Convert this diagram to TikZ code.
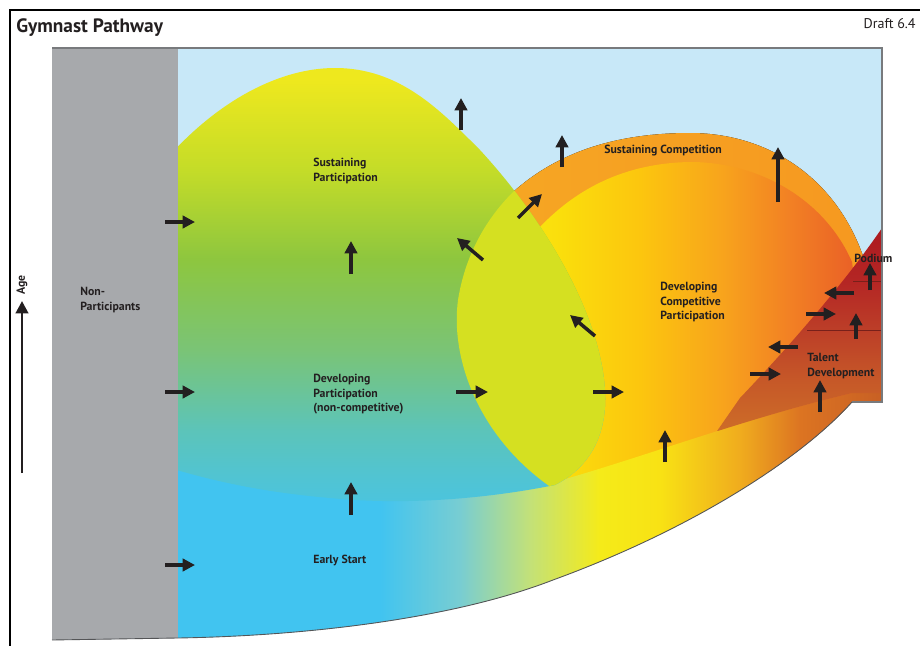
\documentclass[tikz,border=0pt]{standalone}
\usepackage{fontspec}
\setmainfont{PT Sans}
\usetikzlibrary{arrows.meta}

\definecolor{skyback}{RGB}{200,232,248}
\definecolor{nongray}{RGB}{167,169,172}
\definecolor{edgegray}{RGB}{120,122,125}
\definecolor{labeldark}{RGB}{35,31,32}
\definecolor{lenslime}{RGB}{213,224,33}
\definecolor{ringleft}{RGB}{246,168,36}
\definecolor{ringright}{RGB}{246,152,32}
\definecolor{podline}{RGB}{120,32,26}

% participation blob, bottom to top
\definecolor{bpa}{RGB}{72,196,228}
\definecolor{bpb}{RGB}{80,196,212}
\definecolor{bpc}{RGB}{92,196,185}
\definecolor{bpd}{RGB}{122,196,118}
\definecolor{bpe}{RGB}{141,198,63}
\definecolor{bpf}{RGB}{196,220,40}
\definecolor{bpg}{RGB}{238,232,30}
\pgfdeclareverticalshading{blobshade}{100bp}{color(0bp)=(bpa); color(25bp)=(bpa); color(29.35bp)=(bpb); color(34.78bp)=(bpc); color(43.48bp)=(bpd); color(53.26bp)=(bpe); color(63.04bp)=(bpf); color(72.83bp)=(bpg); color(100bp)=(bpg)}

% competitive disc, left to right
\definecolor{dca}{RGB}{248,232,18}
\definecolor{dcb}{RGB}{250,222,12}
\definecolor{dcc}{RGB}{252,198,14}
\definecolor{dcd}{RGB}{248,165,28}
\definecolor{dce}{RGB}{242,128,36}
\definecolor{dcf}{RGB}{234,98,38}
\pgfdeclarehorizontalshading{discshade}{100bp}{color(0bp)=(dca); color(25bp)=(dca); color(32.9bp)=(dcb); color(43.4bp)=(dcc); color(53.9bp)=(dcd); color(63.2bp)=(dce); color(71.1bp)=(dcf); color(100bp)=(dcf)}

% early start band, left to right
\definecolor{bda}{RGB}{65,196,240}
\definecolor{bdb}{RGB}{120,205,210}
\definecolor{bdc}{RGB}{195,225,120}
\definecolor{bdd}{RGB}{245,235,25}
\definecolor{bde}{RGB}{248,226,20}
\definecolor{bdf}{RGB}{240,172,30}
\definecolor{bdg}{RGB}{220,116,34}
\definecolor{bdh}{RGB}{200,96,36}
\pgfdeclarehorizontalshading{bandshade}{100bp}{color(0bp)=(bda); color(39.35bp)=(bda); color(45.03bp)=(bdb); color(50bp)=(bdc); color(54.97bp)=(bdd); color(59.23bp)=(bde); color(64.92bp)=(bdf); color(69.18bp)=(bdg); color(75bp)=(bdh); color(100bp)=(bdh)}

% talent / podium wedge, bottom to top
\definecolor{tda}{RGB}{205,108,40}
\definecolor{tdb}{RGB}{198,88,40}
\definecolor{tdc}{RGB}{188,62,40}
\definecolor{tdd}{RGB}{180,38,36}
\definecolor{tde}{RGB}{172,26,32}
\pgfdeclareverticalshading{talentshade}{100bp}{color(0bp)=(tda); color(25bp)=(tda); color(37.38bp)=(tdb); color(49.75bp)=(tdc); color(61.88bp)=(tdd); color(75bp)=(tde); color(100bp)=(tde)}

\newcommand{\outerline}{(52,48) -- (882,48) -- (882,402) -- (852,402) .. controls (800,460) and (690,530) .. (553,580) .. controls (450,620) and (300,636) .. (178,638) -- (52,640) -- cycle}
\newcommand{\blobline}{(170,155) .. controls (220,100) and (280,68) .. (335,68) .. controls (400,68) and (440,110) .. (480,150) .. controls (540,215) and (600,310) .. (605,390) .. controls (608,440) and (585,470) .. (555,485) .. controls (480,500) and (400,505) .. (330,498) .. controls (260,492) and (210,480) .. (170,468) -- cycle}
\newcommand{\compoline}{(555,490) .. controls (480,440) and (450,360) .. (458,300) .. controls (466,250) and (490,215) .. (513,192) .. controls (560,150) and (620,133) .. (690,133) .. controls (770,133) and (840,180) .. (866,265) -- (880,460) -- cycle}
\newcommand{\bandedge}{(555,482) .. controls (650,455) and (740,420) .. (852,393)}

\begin{document}
\begin{tikzpicture}[x=0.2mm,y=-0.2mm,
  flow/.style={line width=2pt, draw=labeldark, -{Triangle[length=7pt,width=7pt]}},
  zone/.style={anchor=north west, inner sep=0pt, align=left, text=labeldark, font=\fontsize{6.7}{8.2}\selectfont\bfseries}]
\useasboundingbox (0,0) rectangle (920,646);

	\draw[line width=0.6pt] (10,646) -- (10,10) -- (920,10);
	\node[anchor=base west, inner sep=0pt, text=labeldark, font=\fontsize{11}{13}\selectfont\bfseries] at (16,32) (title) {Gymnast Pathway};
	\node[anchor=base east, inner sep=0pt, text=labeldark, font=\fontsize{8}{10}\selectfont] at (916,28) (draft) {Draft 6.4};

	\begin{scope}
		\clip \outerline;
		\fill[skyback] (40,40) rectangle (900,660);
		\fill[left color=ringleft, right color=ringright] \compoline;
		\begin{scope}
			\clip (560,495) -- (520,300) -- (540,227) .. controls (580,185) and (630,163) .. (690,162) .. controls (760,162) and (825,200) .. (852,262) -- (880,460) -- cycle;
			\shade[shading=discshade] (500,100) rectangle (880,520);
		\end{scope}
		\begin{scope}
			\clip (178,430) -- (555,430) -- \bandedge -- (882,393) -- (882,660) -- (178,660) -- cycle;
			\shade[shading=bandshade] (178,380) rectangle (882,660);
		\end{scope}
		\begin{scope}
			\clip \blobline;
			\shade[shading=blobshade] (150,60) rectangle (900,520);
		\end{scope}
		\begin{scope}
			\clip \blobline;
			\fill[lenslime] \compoline;
		\end{scope}
		\begin{scope}
			\clip \bandedge -- (900,393) -- (900,100) -- (555,100) -- cycle;
			\clip (882,228) .. controls (850,275) and (800,335) .. (740,398) -- (690,470) -- (900,470) -- (900,228) -- cycle;
			\shade[shading=talentshade] (690,228) rectangle (900,430);
		\end{scope}
		\fill[nongray] (40,40) rectangle (178,660);
		\draw[podline, line width=0.5pt] (853,281) -- (882,281);
		\draw[podline, line width=0.5pt] (807,330) -- (882,330);
	\end{scope}

	\draw[edgegray, line width=0.9pt] (52,48) -- (882,48) -- (882,402) -- (852,402);
	\draw[edgegray!70!black, line width=0.5pt] (852,402) .. controls (800,460) and (690,530) .. (553,580) .. controls (450,620) and (300,636) .. (178,638) -- (52,640);

	% arrows
	\foreach \ax/\ay/\bx/\by in {165/222/195/222, 165/392/195/392, 165/565/195/565, 456/392/488/392, 593/392/624/392, 750/374/781/374, 806/314/836/314,
		798/347/768/347, 854/293/824/293,
		351/274/351/241, 351/515/351/482, 461/130/461/98, 562/167/562/135, 778/202/778/147, 665/462/665/430, 820/412/820/380, 856/339/856/313, 870/290/870/263,
		518/218/542/194, 483/260/457/238, 595/336/570/315}
		\draw[flow] (\ax,\ay) -- (\bx,\by);

	\draw[flow, line width=1.6pt] (22,473) -- (22,301);
	\node[rotate=90, inner sep=0pt, text=labeldark, font=\fontsize{6.7}{8}\selectfont\bfseries] at (22,285) (age) {Age};

	\node[zone] at (80,287) (nonpart) {Non-\\Participants};
	\node[zone] at (313,158) (sustpart) {Sustaining\\Participation};
	\node[zone] at (313,374) (devpart) {Developing\\Participation\\(non-competitive)};
	\node[zone] at (313,555) (early) {Early Start};
	\node[zone] at (604,145) (sustcomp) {Sustaining Competition};
	\node[zone] at (660,282) (devcomp) {Developing\\Competitive\\Participation};
	\node[zone] at (854,254) (podium) {Podium};
	\node[zone] at (807,353) (talent) {Talent\\Development};
\end{tikzpicture}
\end{document}
